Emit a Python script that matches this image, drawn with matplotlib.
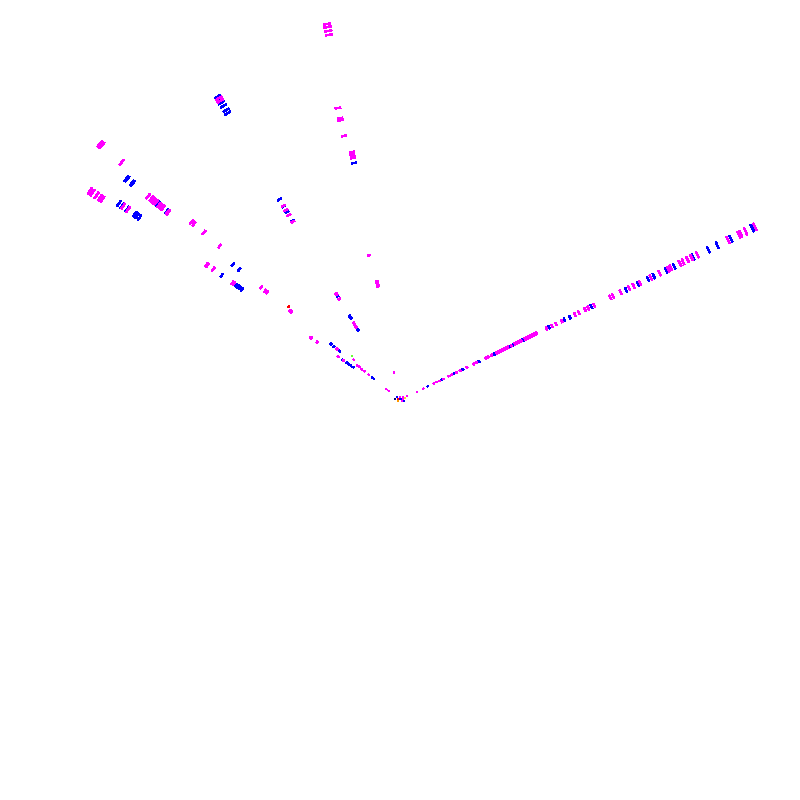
import numpy as np
import matplotlib
matplotlib.use('Agg')
import matplotlib.pyplot as plt

# raios (graus) -> raios das marcas, magenta e azul
r_26_m = [395, 384.5, 379, 377, 365, 331, 324.5, 320, 315, 311.5, 301.5, 298.5, 289, 279, 267, 260, 255,
          245.5, 237, 234, 216, 209.5, 206, 199, 194.7, 180, 173.5, 169, 163, 152, 150, 148, 146, 144.6, 143, 141,
          139, 135, 133.5, 132, 130, 128, 124, 120, 118.7, 116, 114.6, 113, 111, 109, 107.5, 102, 98, 95.7, 85, 82, 74.5,
          66.7, 63, 57.5, 54.5, 48, 43.6, 40.8, 37.8, 25.8, 19]
r_26_b = [392, 368, 353, 343, 326, 305, 296, 282.5, 276, 265, 251.5, 213, 189, 183, 166, 137, 126, 122, 104.6,
          88, 70, 60, 46.4, 31]

r_101_m = [383, 380, 376, 372, 252.6, 251, 249.5, 248, 246.5, 121, 119, 117, 116]
r_101_b = [241.4]
r_102_m = [298.5, 288, 286, 270, 148]

r_121_m = [352, 349, 226.5, 221.6, 215.7, 208, 124, 123, 117.7, 89.7, 88, 85]
r_121_b = [354, 350, 347, 343, 338, 334.6, 234, 226, 219.5, 209, 121, 98, 95.5, 84, 81.6]

r_139_m = [394.6, 393, 392, 366, 274, 271, 258, 237]

r_141_m = [324, 320, 319, 318, 316, 315, 314, 310, 308, 307, 306, 305, 299, 298, 179, 173.5, 172, 171, 142, 140,
           81, 55, 52.6, 49, 46, 40, 17, 14]
r_141_b = [352, 351, 345, 344, 312, 300, 215, 207, 89, 85, 77.6, 36, 34]

r_145_m = [338, 332, 236, 235, 228, 204.5, 203, 109, 108, 101, 75.5, 69]
r_145_b = [343, 339, 338, 333, 332, 324, 323, 321, 318, 217.5, 200, 199, 197, 196, 193, 69.6, 64.6, 61, 57.4]
r_146_m = [374, 371, 366, 362, 360, 359]

# pontos isolados
extra_theta = [140, 137.5, 139, 102.5]
extra_r = [145, 65, 61, 27.7]
extra_cor = ['#ff0000', '#66ff33', '#ff00ff', '#ff00ff']

# aglomerado no centro
centro_theta = [169, 135, 153, 207, 90, 333, 346, 45, 22, 30, 90, 27, 18]
centro_r = [5.1, 4.2, 2.2, 2.2, 3, 2.2, 4.1, 4.2, 5.4, 8, 1, 2.2, 3.2]
centro_cor = ['#000080', '#0000ff', '#ff0000', '#ff9900', '#ff00ff', '#ff00ff', '#0000ff', '#ff00ff',
              '#ffcc33', '#ff00ff', '#0000ff', '#0000ff', '#ff00ff']

grupos = [
    (26, r_26_b, '#0000ff'), (26, r_26_m, '#ff00ff'),
    (101, r_101_b, '#0000ff'), (101, r_101_m, '#ff00ff'), (102, r_102_m, '#ff00ff'),
    (121, r_121_b, '#0000ff'), (121, r_121_m, '#ff00ff'),
    (141, r_141_b, '#0000ff'), (141, r_141_m, '#ff00ff'),
    (145, r_145_b, '#0000ff'), (145, r_145_m, '#ff00ff'),
    (139.5, r_139_m, '#ff00ff'),
    (146, r_146_m, '#ff00ff'),
]

fig = plt.figure(figsize=(8, 8), dpi=100)
ax = fig.add_axes([0, 0, 1, 1], projection='polar')


def marcas(theta, r, cor):
    # arco curto: largura angular fixa; perto do centro precisa de contorno para aparecer
    r = np.array(r)
    ax.bar(np.radians(theta), 1.5, width=0.02, bottom=r - 0.75, color=cor,
           edgecolor=cor, linewidth=np.where(r < 120, 0.25, 0), antialiased=False)


for t, rr, c in zip(extra_theta, extra_r, extra_cor):
    ax.bar(np.radians(t), 1, width=0.008, bottom=rr, color=c, edgecolor=c, linewidth=0.3, antialiased=False)
for t, rs, c in grupos:
    marcas(t, rs, c)
for t, rr, c in zip(centro_theta, centro_r, centro_cor):
    ax.bar(np.radians(t), 0.6, width=0.02, bottom=rr, color=c, edgecolor=c, linewidth=0.3, antialiased=False)

ax.set_ylim(0, 400)
ax.set_axis_off()
fig.savefig('out.png', dpi=100, facecolor='white')
